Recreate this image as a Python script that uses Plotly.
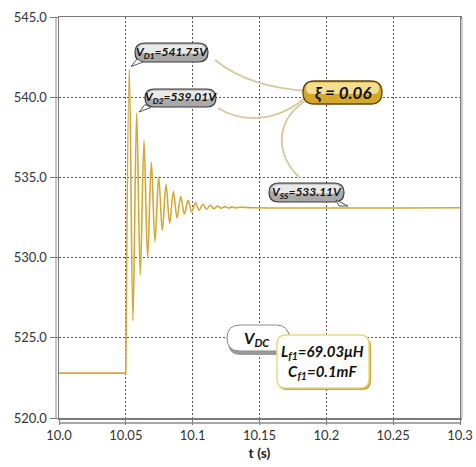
import plotly.graph_objects as go

# ---------------- data ----------------
t_pre = [10.0, 10.05]
v_pre = [522.8, 522.8]

t_peaks = [10.0526, 10.0581, 10.0636, 10.0691, 10.0746, 10.0801, 10.0856, 10.0911,
           10.0966, 10.1021, 10.1076, 10.1131, 10.1186, 10.1241, 10.1296, 10.1351]
v_peaks = [541.75, 539.01, 537.28, 535.95, 535.02, 534.55, 534.12, 533.80,
           533.58, 533.43, 533.33, 533.26, 533.21, 533.18, 533.16, 533.14]

t_troughs = [10.0553, 10.0608, 10.0663, 10.0718, 10.0773, 10.0828, 10.0883, 10.0938,
             10.0993, 10.1048, 10.1103, 10.1158, 10.1213, 10.1268, 10.1323]
v_troughs = [526.06, 528.93, 529.96, 531.00, 531.70, 532.15, 532.48, 532.70,
             532.85, 532.95, 533.01, 533.05, 533.08, 533.09, 533.10]

t_post = [10.145, 10.3]
v_post = [533.11, 533.11]

x_ticks = [10.0, 10.05, 10.1, 10.15, 10.2, 10.25, 10.3]
x_ticklabels = ["10.0", "10.05", "10.1", "10.15", "10.2", "10.25", "10.3"]
y_ticks = [520, 525, 530, 535, 540, 545]
y_ticklabels = ["520.0", "525.0", "530.0", "535.0", "540.0", "545.0"]

# oscillating part: step start + extrema in time order + steady state
pts = sorted([(t_pre[-1], v_pre[-1])] + list(zip(t_peaks, v_peaks)) +
             list(zip(t_troughs, v_troughs)) + list(zip(t_post, v_post)))
t_osc = [p[0] for p in pts]
v_osc = [p[1] for p in pts]

# ---------------- layout geometry ----------------
W, H = 476, 467
L, T, R, B = 59, 17, 460, 418
PW, PH = R - L, B - T


def px(x):
    return (x - L) / PW


def py(y):
    return (B - y) / PH


def pill(x0, y0, x1, y1, r):
    """rounded rectangle path in paper coords from pixel coords"""
    return (f"M {px(x0 + r)},{py(y0)} L {px(x1 - r)},{py(y0)} "
            f"Q {px(x1)},{py(y0)} {px(x1)},{py(y0 + r)} "
            f"L {px(x1)},{py(y1 - r)} "
            f"Q {px(x1)},{py(y1)} {px(x1 - r)},{py(y1)} "
            f"L {px(x0 + r)},{py(y1)} "
            f"Q {px(x0)},{py(y1)} {px(x0)},{py(y1 - r)} "
            f"L {px(x0)},{py(y0 + r)} "
            f"Q {px(x0)},{py(y0)} {px(x0 + r)},{py(y0)} Z")


def poly(points):
    return "M " + " L ".join(f"{px(x)},{py(y)}" for x, y in points) + " Z"


def curve(p0, p1, p2, p3):
    return (f"M {px(p0[0])},{py(p0[1])} C {px(p1[0])},{py(p1[1])} "
            f"{px(p2[0])},{py(p2[1])} {px(p3[0])},{py(p3[1])}")


LINE_COLOR = "#D2A838"
fig = go.Figure()
fig.add_trace(go.Scatter(
    x=t_pre, y=v_pre, mode="lines",
    line=dict(color=LINE_COLOR, width=1.6),
    hoverinfo="skip", showlegend=False))
fig.add_trace(go.Scatter(
    x=t_osc, y=v_osc, mode="lines",
    line=dict(color=LINE_COLOR, width=1.6, shape="spline", smoothing=1.0),
    hoverinfo="skip", showlegend=False))

shapes = []
# extra outer left line and lower x-axis line, right shadow
shapes.append(dict(type="line", xref="paper", yref="paper", x0=px(56), x1=px(56), y0=py(T), y1=py(B),
                   line=dict(color="#8a8a8a", width=1)))
shapes.append(dict(type="line", xref="paper", yref="paper", x0=px(L), x1=px(R), y0=py(423), y1=py(423),
                   line=dict(color="#8a8a8a", width=1.5)))
shapes.append(dict(type="line", xref="paper", yref="paper", x0=px(462), x1=px(462), y0=py(T + 2), y1=py(B),
                   line=dict(color="#cfcfcf", width=2)))

# connector curves
cc = dict(color="#D8CA9E", width=2)
shapes.append(dict(type="path", xref="paper", yref="paper", path=curve((215, 60), (240, 80), (270, 88), (306, 91)), line=cc))
shapes.append(dict(type="path", xref="paper", yref="paper", path=curve((218, 108), (240, 122), (275, 124), (306, 97)), line=cc))
shapes.append(dict(type="path", xref="paper", yref="paper", path=curve((305, 101), (270, 125), (280, 160), (300, 178)), line=cc))


def gray_pill(x0, y0, x1, y1, r):
    shapes.append(dict(type="path", xref="paper", yref="paper", path=pill(x0, y0, x1, y1, r),
                       fillcolor="#a9a9a9", line=dict(color="#3a3a3a", width=1.2)))
    shapes.append(dict(type="path", xref="paper", yref="paper",
                       path=pill(x0 + 2, y0 + 1.5, x1 - 2, (y0 + y1) / 2 + 1, min(r - 1.5, ((y1 - y0) / 2 - 1.5))),
                       fillcolor="#e9e9e9", line=dict(width=0)))


gray_pill(135, 43, 208, 62, 9.5)
gray_pill(145, 89, 216, 107, 9)
gray_pill(269, 183, 344, 202, 9.5)

# pointers
ptr_line = dict(color="#555555", width=1)
shapes.append(dict(type="path", xref="paper", yref="paper", path=poly([(131, 66.5), (137, 59), (143, 62)]),
                   fillcolor="white", line=ptr_line))
shapes.append(dict(type="path", xref="paper", yref="paper", path=poly([(139, 112), (145, 104.5), (151, 107.5)]),
                   fillcolor="white", line=ptr_line))
shapes.append(dict(type="path", xref="paper", yref="paper", path=poly([(336, 200), (348, 206), (339, 206)]),
                   fillcolor="white", line=ptr_line))

# xi gold pill
shapes.append(dict(type="path", xref="paper", yref="paper", path=pill(303, 81, 382, 104, 11.5),
                   fillcolor="#D6A82A", line=dict(color="#5c4410", width=1.3)))
shapes.append(dict(type="path", xref="paper", yref="paper", path=pill(306, 82.5, 379, 94, 5.5),
                   fillcolor="#F3DE92", line=dict(width=0)))

# V_DC pill with shadow
shapes.append(dict(type="path", xref="paper", yref="paper", path=pill(228, 328, 291, 355, 13),
                   fillcolor="#9a9a9a", line=dict(width=0)))
shapes.append(dict(type="path", xref="paper", yref="paper", path=pill(227, 325, 289, 351, 13),
                   fillcolor="white", line=dict(color="#8c8c8c", width=1)))
# L/C box
shapes.append(dict(type="path", xref="paper", yref="paper", path=pill(278, 337, 371, 390, 9),
                   fillcolor="#C9A63A", line=dict(width=0)))
shapes.append(dict(type="path", xref="paper", yref="paper", path=pill(277, 335, 369, 388, 9),
                   fillcolor="white", line=dict(color="#EADB7C", width=1.5)))

FAM = "Lato, Liberation Sans, Arial"
afont = dict(family=FAM, size=12, color="#111111")
annotations = [
    dict(x=px(171.5), y=py(52.5), text="<b><i>V<sub>D1</sub>=541.75V</i></b>", font=afont),
    dict(x=px(180.5), y=py(98), text="<b><i>V<sub>D2</sub>=539.01V</i></b>", font=afont),
    dict(x=px(306.5), y=py(192.5), text="<b><i>V<sub>SS</sub>=533.11V</i></b>", font=afont),
    dict(x=px(343), y=py(92.5), text="<b><i>ξ = 0.06</i></b>", font=dict(family=FAM, size=17, color="#111111")),
    dict(x=px(257), y=py(338), text="<b><i>V<sub>DC</sub></i></b>", font=dict(family=FAM, size=16, color="#111111")),
    dict(x=px(322), y=py(362), text="<b><i>L<sub>f1</sub>=69.03μH<br>C<sub>f1</sub>=0.1mF</i></b>",
         font=dict(family=FAM, size=15, color="#111111")),
]
for a in annotations:
    a.update(xref="paper", yref="paper", showarrow=False, xanchor="center", yanchor="middle")

tickfont = dict(family=FAM, size=13, color="#333333")
fig.update_layout(
    width=W, height=H,
    margin=dict(l=L, r=W - R, t=T, b=H - B, autoexpand=False),
    paper_bgcolor="white", plot_bgcolor="white",
    shapes=shapes, annotations=annotations,
    xaxis=dict(range=[10.0, 10.3], tickvals=x_ticks, ticktext=x_ticklabels,
               showgrid=True, gridcolor="#555555", griddash="2px,2px", gridwidth=1,
               showline=True, linecolor="#7a7a7a", linewidth=1.5, mirror=True,
               ticks="outside", ticklen=5, tickcolor="#7a7a7a", tickfont=tickfont,
               zeroline=False, automargin=False,
               title=dict(text="<b>t (s)</b>", font=dict(family=FAM, size=14, color="#222222"), standoff=6)),
    yaxis=dict(range=[520, 545], tickvals=y_ticks, ticktext=y_ticklabels,
               showgrid=True, gridcolor="#555555", griddash="2px,2px", gridwidth=1,
               showline=True, linecolor="#7a7a7a", linewidth=1.5, mirror=True,
               ticks="outside", ticklen=8, tickcolor="#7a7a7a", tickfont=tickfont,
               zeroline=False, automargin=False),
)

fig.write_html("out.html",
               config={"displayModeBar": False, "staticPlot": True},
               post_script="document.body.style.margin='0px';document.body.style.padding='0px';"
                           "document.body.style.overflow='hidden';")
